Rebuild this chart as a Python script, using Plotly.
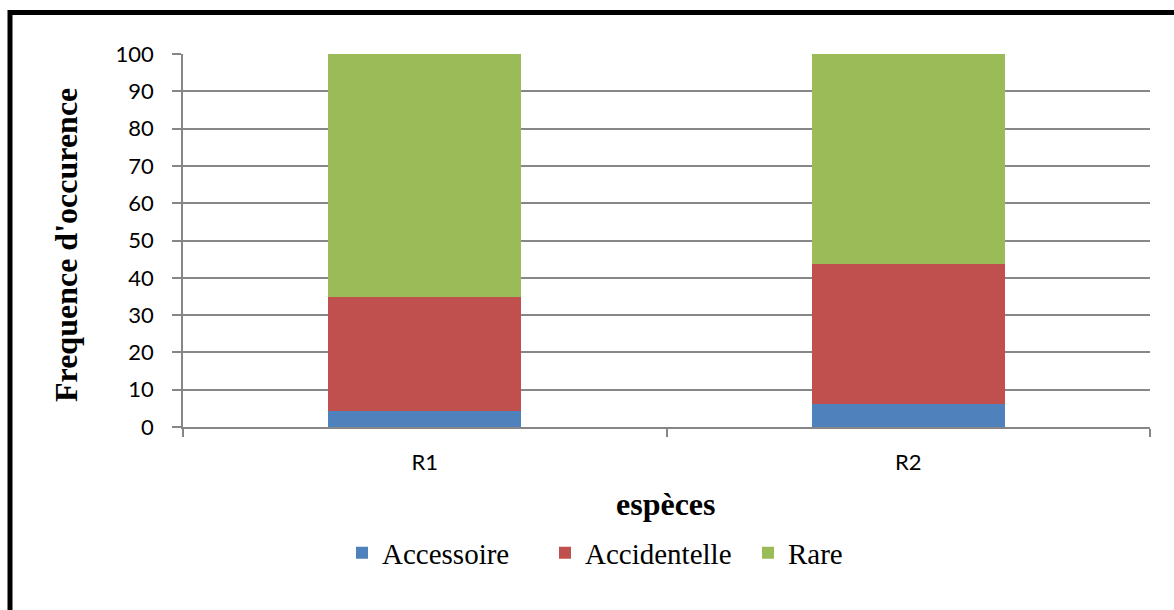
import plotly.graph_objects as go

# Occurrence frequency (%) per station, stacked by class
stations = ["R1", "R2"]
accessoire = [4.35, 6.25]
accidentelle = [30.43, 37.5]
rare = [65.22, 56.25]
y_ticks = [0, 10, 20, 30, 40, 50, 60, 70, 80, 90, 100]

W, H = 1174, 610
L, R, T, B = 183, 24, 54, 183
pw, ph = W - L - R, H - T - B


def px_x(x):
    return (x - L) / pw


def px_y(y):
    return (H - B - y) / ph


fig = go.Figure()
for name, vals, col in [
    ("Accessoire", accessoire, "#4F81BD"),
    ("Accidentelle", accidentelle, "#C0504D"),
    ("Rare", rare, "#9BBB59"),
]:
    fig.add_trace(go.Bar(
        x=stations, y=vals, name=name,
        marker=dict(color=col, line=dict(width=0)),
        width=0.4,
    ))

fig.update_layout(
    width=W, height=H,
    margin=dict(l=L, r=R, t=T, b=B, pad=0),
    barmode="stack",
    paper_bgcolor="white", plot_bgcolor="white",
    showlegend=True,
    legend=dict(
        orientation="h", x=px_x(342), xanchor="left",
        y=px_y(553), yanchor="middle",
        font=dict(family="Liberation Serif", size=29, color="black"),
        entrywidth=158, traceorder="normal",
        itemclick=False,
    ),
    xaxis=dict(
        showgrid=False, showline=True, linecolor="#868686", linewidth=1.5,
        ticks="outside", tickson="boundaries", ticklen=8,
        tickcolor="#868686", tickwidth=1.5,
        tickfont=dict(family="Lato", size=22, color="black"),
        ticklabelstandoff=15,
    ),
    yaxis=dict(
        range=[0, 100], tickvals=y_ticks,
        showgrid=True, gridcolor="#878787", gridwidth=1.5,
        showline=True, linecolor="#868686", linewidth=1.5,
        ticks="outside", ticklen=9, tickcolor="#868686", tickwidth=1.5,
        tickfont=dict(family="Lato", size=22, color="black"),
        ticklabelstandoff=14, zeroline=False,
    ),
    annotations=[
        dict(text="<b>Frequence d'occurence</b>", xref="paper", yref="paper",
             x=px_x(66), y=px_y(245), textangle=-90, showarrow=False,
             xanchor="center", yanchor="middle",
             font=dict(family="Liberation Serif", size=32, color="black")),
        dict(text="<b>espèces</b>", xref="paper", yref="paper",
             x=px_x(666), y=px_y(504), showarrow=False,
             xanchor="center", yanchor="middle",
             font=dict(family="Liberation Serif", size=32, color="black")),
    ],
    shapes=[
        dict(type="line", xref="paper", yref="paper",
             x0=px_x(8), x1=px_x(W + 10), y0=px_y(12.5), y1=px_y(12.5),
             line=dict(color="black", width=5)),
        dict(type="line", xref="paper", yref="paper",
             x0=px_x(10), x1=px_x(10), y0=px_y(10), y1=px_y(H + 10),
             line=dict(color="black", width=5)),
    ],
)

fig.write_html("out.html")
